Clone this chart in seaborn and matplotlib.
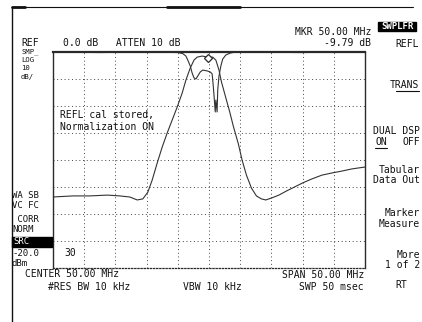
import matplotlib
matplotlib.use('Agg')
import matplotlib.pyplot as plt
import seaborn as sns
import pandas as pd
from matplotlib.lines import Line2D
from matplotlib.patches import Rectangle

# transmission trace (MHz, dB)
trans_freq = [25.0, 28.2, 30.9, 33.7, 35.7, 37.3, 38.5, 39.4, 40.2, 40.9, 41.7, 42.5,
              43.3, 44.1, 44.9, 45.7, 46.3, 47.0, 47.6, 48.1, 48.9, 49.8, 50.6, 51.1,
              51.6, 52.0, 52.7, 53.3, 53.9, 54.7, 55.3, 56.0, 56.8, 57.6, 58.4, 59.1,
              60.0, 61.2, 62.4, 63.7, 65.0, 66.5, 68.1, 69.7, 71.3, 72.9, 75.0]
trans_db = [-53.7, -53.3, -53.3, -53.0, -53.3, -53.7, -54.8, -54.4, -51.9, -47.4, -41.1, -35.2,
            -30.0, -25.2, -20.4, -15.2, -10.4, -5.9, -3.0, -1.9, -1.5, -1.9, -1.9, -3.0,
            -6.7, -11.1, -17.0, -22.0, -27.5, -34.0, -40.0, -45.6, -50.4, -53.3, -54.4, -54.8,
            -54.1, -53.0, -51.5, -50.0, -48.5, -47.0, -45.6, -44.8, -44.1, -43.3, -42.6]

# reflection trace (MHz, dB)
refl_freq = [25.0, 32.5, 40.5, 45.0, 45.8, 46.3, 46.6, 47.0, 47.3, 47.6, 47.9, 48.2, 48.6,
             49.0, 49.7, 50.2, 50.5, 50.6, 50.8, 51.0, 51.1, 51.3, 51.4, 51.6, 51.9, 52.2,
             52.7, 53.4, 54.3, 64.6, 75.0]
refl_db = [0.0, -0.2, 0.0, -0.2, -0.6, -1.5, -3.0, -5.2, -7.8, -9.6, -10.0, -8.9, -7.4,
           -6.7, -7.0, -7.4, -8.1, -10.4, -15.9, -22.2, -17.8, -22.2, -14.1, -8.9, -5.2, -2.6,
           -1.1, -0.4, 0.0, -0.2, 0.0]

mkr_freq = [49.8]
mkr_db = [-2.2]

W, H = 422, 322

sns.set_theme(style='white')
plt.rcParams['font.family'] = ['DejaVu Sans Mono']

fig = plt.figure(figsize=(W / 100, H / 100), dpi=100)
ax = fig.add_axes([53 / W, 1 - 268 / H, 312 / W, 216 / H])

ink = '#2a2a2a'
trans = pd.DataFrame({'f': trans_freq, 'db': trans_db})
refl = pd.DataFrame({'f': refl_freq, 'db': refl_db})
sns.lineplot(data=trans, x='f', y='db', ax=ax, color='#333333', lw=0.8, sort=False)
sns.lineplot(data=refl, x='f', y='db', ax=ax, color='#333333', lw=0.8, sort=False)
ax.plot(mkr_freq, mkr_db, marker='D', ms=4, mfc='white', mec=ink, mew=0.9, ls='none')

ax.set_xlim(25, 75)
ax.set_ylim(-80, 0)
ax.set_xticks([25 + 5 * i for i in range(11)])
ax.set_yticks([-10 * i for i in range(9)])
ax.set_xticklabels([])
ax.set_yticklabels([])
ax.tick_params(length=0)
ax.set_xlabel('')
ax.set_ylabel('')
ax.grid(True, color='#444444', lw=0.7, ls=(0, (1, 2.8)))
for s in ['left', 'right', 'top']:
    ax.spines[s].set_color(ink)
    ax.spines[s].set_linewidth(1.0)
ax.spines['top'].set_linewidth(1.6)
ax.spines['bottom'].set_color(ink)
ax.spines['bottom'].set_linestyle((0, (1, 1.5)))
ax.spines['bottom'].set_linewidth(0.9)

fs = 7


def put(x, y, s, ha='left', size=fs, **kw):
    fig.text(x / W, 1 - y / H, s, ha=ha, va='center', fontsize=size, color='#111', **kw)


# header
put(21, 43, 'REF')
put(63, 43, '0.0 dB   ATTEN 10 dB')
put(371, 32, 'MKR 50.00 MHz', ha='right')
put(371, 43, '-9.79 dB', ha='right')

# left annotations
for y, s in [(51.5, 'SMP_'), (60, 'LOG'), (68.5, '10'), (77, 'dB/')]:
    put(21, y, s, size=5.2)
for y, s in [(196, 'WA SB'), (206, 'VC FC'), (219, ' CORR'), (230, 'NORM'),
             (254, '-20.0'), (264, 'dBm')]:
    put(12, y, s, size=6.5)
fig.add_artist(Rectangle((12 / W, 1 - 247 / H), 40 / W, 10 / H, transform=fig.transFigure,
                         color='black', zorder=5))
fig.text(13 / W, 1 - 242 / H, 'SRC', ha='left', va='center', fontsize=6.5,
         color='white', zorder=6)
put(64, 253, '30')

# in-plot note
put(60, 115, 'REFL cal stored,')
put(60, 127, 'Normalization ON')

# bottom
put(25, 274, 'CENTER 50.00 MHz')
put(48, 287, '#RES BW 10 kHz')
put(183, 287, 'VBW 10 kHz')
put(364, 275, 'SPAN 50.00 MHz', ha='right')
put(364, 287, 'SWP 50 msec', ha='right')

# softkeys
fig.add_artist(Rectangle((378 / W, 1 - 31 / H), 38 / W, 9 / H, transform=fig.transFigure,
                         color='black', zorder=5))
fig.text(397 / W, 1 - 26.5 / H, 'SWPLFR', ha='center', va='center', fontsize=6.5,
         color='white', zorder=6, fontweight='bold')
put(419, 44, 'REFL', ha='right')
put(419, 85, 'TRANS', ha='right')
fig.add_artist(Line2D([396 / W, 419 / W], [1 - 91 / H, 1 - 91 / H], color='#111', lw=0.8))
put(420, 131, 'DUAL DSP', ha='right')
put(375, 142, 'ON')
put(420, 142, 'OFF', ha='right')
fig.add_artist(Line2D([375 / W, 387 / W], [1 - 148 / H, 1 - 148 / H], color='#111', lw=0.8))
put(420, 170, 'Tabular', ha='right')
put(420, 180, 'Data Out', ha='right')
put(420, 213, 'Marker', ha='right')
put(420, 224, 'Measure', ha='right')
put(420, 255, 'More', ha='right')
put(420, 265, '1 of 2', ha='right')
put(401, 285, 'RT', ha='center')

# screen frame
fig.add_artist(Line2D([12 / W, 12 / W], [0, 1 - 7 / H], color='#111', lw=1.0))
fig.add_artist(Line2D([12 / W, 413 / W], [1 - 7 / H, 1 - 7 / H], color='#111', lw=0.8))
fig.add_artist(Line2D([12 / W, 25 / W], [1 - 7 / H, 1 - 7 / H], color='#111', lw=2.0))
fig.add_artist(Line2D([167 / W, 240 / W], [1 - 7 / H, 1 - 7 / H], color='#111', lw=2.0))

fig.savefig('out.png', dpi=100)
